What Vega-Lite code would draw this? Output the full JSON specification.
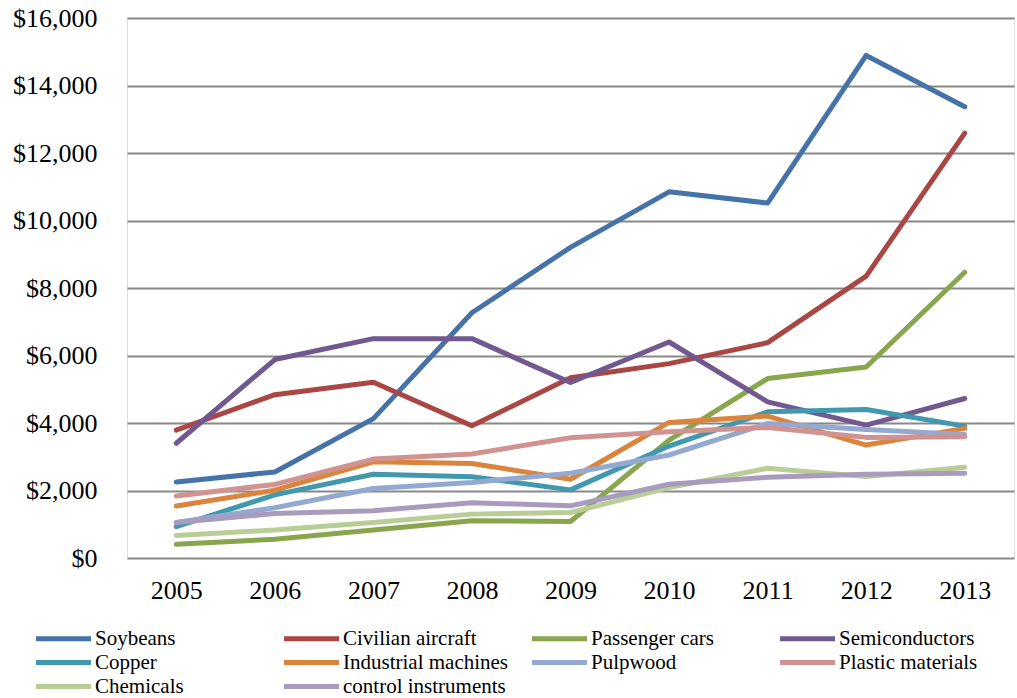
{
  "$schema": "https://vega.github.io/schema/vega-lite/v6.json",
  "autosize": "none",
  "width": 887,
  "height": 540,
  "padding": {"left": 127, "top": 18, "right": 3, "bottom": 140},
  "background": "white",
  "title": {
    "text": "(in millions)",
    "font": "Liberation Serif",
    "fontSize": 30,
    "fontWeight": "bold",
    "color": "black",
    "anchor": "middle",
    "baseline": "alphabetic",
    "dx": -37,
    "offset": 18
  },
  "data": {
    "values": [
      {"year": "2005", "product": "Soybeans", "value": 2250},
      {"year": "2006", "product": "Soybeans", "value": 2550},
      {"year": "2007", "product": "Soybeans", "value": 4130},
      {"year": "2008", "product": "Soybeans", "value": 7267},
      {"year": "2009", "product": "Soybeans", "value": 9205},
      {"year": "2010", "product": "Soybeans", "value": 10850},
      {"year": "2011", "product": "Soybeans", "value": 10517},
      {"year": "2012", "product": "Soybeans", "value": 14890},
      {"year": "2013", "product": "Soybeans", "value": 13370},
      {"year": "2005", "product": "Civilian aircraft", "value": 3790},
      {"year": "2006", "product": "Civilian aircraft", "value": 4840},
      {"year": "2007", "product": "Civilian aircraft", "value": 5210},
      {"year": "2008", "product": "Civilian aircraft", "value": 3917},
      {"year": "2009", "product": "Civilian aircraft", "value": 5340},
      {"year": "2010", "product": "Civilian aircraft", "value": 5760},
      {"year": "2011", "product": "Civilian aircraft", "value": 6380},
      {"year": "2012", "product": "Civilian aircraft", "value": 8350},
      {"year": "2013", "product": "Civilian aircraft", "value": 12590},
      {"year": "2005", "product": "Passenger cars", "value": 405},
      {"year": "2006", "product": "Passenger cars", "value": 555},
      {"year": "2007", "product": "Passenger cars", "value": 830},
      {"year": "2008", "product": "Passenger cars", "value": 1105},
      {"year": "2009", "product": "Passenger cars", "value": 1081},
      {"year": "2010", "product": "Passenger cars", "value": 3490},
      {"year": "2011", "product": "Passenger cars", "value": 5317},
      {"year": "2012", "product": "Passenger cars", "value": 5660},
      {"year": "2013", "product": "Passenger cars", "value": 8467},
      {"year": "2005", "product": "Semiconductors", "value": 3400},
      {"year": "2006", "product": "Semiconductors", "value": 5880},
      {"year": "2007", "product": "Semiconductors", "value": 6500},
      {"year": "2008", "product": "Semiconductors", "value": 6500},
      {"year": "2009", "product": "Semiconductors", "value": 5200},
      {"year": "2010", "product": "Semiconductors", "value": 6400},
      {"year": "2011", "product": "Semiconductors", "value": 4627},
      {"year": "2012", "product": "Semiconductors", "value": 3938},
      {"year": "2013", "product": "Semiconductors", "value": 4727},
      {"year": "2005", "product": "Copper", "value": 930},
      {"year": "2006", "product": "Copper", "value": 1870},
      {"year": "2007", "product": "Copper", "value": 2480},
      {"year": "2008", "product": "Copper", "value": 2410},
      {"year": "2009", "product": "Copper", "value": 2018},
      {"year": "2010", "product": "Copper", "value": 3317},
      {"year": "2011", "product": "Copper", "value": 4330},
      {"year": "2012", "product": "Copper", "value": 4400},
      {"year": "2013", "product": "Copper", "value": 3908},
      {"year": "2005", "product": "Industrial machines", "value": 1540},
      {"year": "2006", "product": "Industrial machines", "value": 2010},
      {"year": "2007", "product": "Industrial machines", "value": 2850},
      {"year": "2008", "product": "Industrial machines", "value": 2800},
      {"year": "2009", "product": "Industrial machines", "value": 2334},
      {"year": "2010", "product": "Industrial machines", "value": 4018},
      {"year": "2011", "product": "Industrial machines", "value": 4204},
      {"year": "2012", "product": "Industrial machines", "value": 3347},
      {"year": "2013", "product": "Industrial machines", "value": 3840},
      {"year": "2005", "product": "Pulpwood", "value": 1050},
      {"year": "2006", "product": "Pulpwood", "value": 1490},
      {"year": "2007", "product": "Pulpwood", "value": 2060},
      {"year": "2008", "product": "Pulpwood", "value": 2240},
      {"year": "2009", "product": "Pulpwood", "value": 2511},
      {"year": "2010", "product": "Pulpwood", "value": 3052},
      {"year": "2011", "product": "Pulpwood", "value": 3988},
      {"year": "2012", "product": "Pulpwood", "value": 3810},
      {"year": "2013", "product": "Pulpwood", "value": 3663},
      {"year": "2005", "product": "Plastic materials", "value": 1840},
      {"year": "2006", "product": "Plastic materials", "value": 2180},
      {"year": "2007", "product": "Plastic materials", "value": 2930},
      {"year": "2008", "product": "Plastic materials", "value": 3080},
      {"year": "2009", "product": "Plastic materials", "value": 3563},
      {"year": "2010", "product": "Plastic materials", "value": 3740},
      {"year": "2011", "product": "Plastic materials", "value": 3870},
      {"year": "2012", "product": "Plastic materials", "value": 3574},
      {"year": "2013", "product": "Plastic materials", "value": 3593},
      {"year": "2005", "product": "Chemicals", "value": 670},
      {"year": "2006", "product": "Chemicals", "value": 830},
      {"year": "2007", "product": "Chemicals", "value": 1050},
      {"year": "2008", "product": "Chemicals", "value": 1300},
      {"year": "2009", "product": "Chemicals", "value": 1347},
      {"year": "2010", "product": "Chemicals", "value": 2087},
      {"year": "2011", "product": "Chemicals", "value": 2659},
      {"year": "2012", "product": "Chemicals", "value": 2411},
      {"year": "2013", "product": "Chemicals", "value": 2688},
      {"year": "2005", "product": "control instruments", "value": 1050},
      {"year": "2006", "product": "control instruments", "value": 1320},
      {"year": "2007", "product": "control instruments", "value": 1400},
      {"year": "2008", "product": "control instruments", "value": 1640},
      {"year": "2009", "product": "control instruments", "value": 1545},
      {"year": "2010", "product": "control instruments", "value": 2186},
      {"year": "2011", "product": "control instruments", "value": 2393},
      {"year": "2012", "product": "control instruments", "value": 2481},
      {"year": "2013", "product": "control instruments", "value": 2511}
    ]
  },
  "mark": {"type": "line", "strokeWidth": 5, "strokeCap": "round", "strokeJoin": "round"},
  "encoding": {
    "x": {
      "field": "year",
      "type": "ordinal",
      "title": null,
      "scale": {"padding": 0.5},
      "axis": {
        "domain": false,
        "ticks": false,
        "tickSize": 0,
        "grid": false,
        "labelAngle": 0,
        "labelPadding": 19,
        "labelFont": "Liberation Serif",
        "labelFontSize": 26,
        "labelColor": "black"
      }
    },
    "y": {
      "field": "value",
      "type": "quantitative",
      "title": null,
      "scale": {"domain": [0, 16000], "nice": false},
      "axis": {
        "values": [0, 2000, 4000, 6000, 8000, 10000, 12000, 14000, 16000],
        "format": "$,.0f",
        "domain": false,
        "ticks": false,
        "tickSize": 0,
        "labelPadding": 30,
        "labelFont": "Liberation Serif",
        "labelFontSize": 26,
        "labelColor": "black",
        "gridColor": "#888888",
        "gridWidth": 2,
        "gridOpacity": 1
      }
    },
    "color": {
      "field": "product",
      "type": "nominal",
      "title": null,
      "scale": {
        "domain": ["Soybeans", "Civilian aircraft", "Passenger cars", "Semiconductors", "Copper", "Industrial machines", "Pulpwood", "Plastic materials", "Chemicals", "control instruments"],
        "range": ["#4572A7", "#AA4643", "#89A54E", "#71588F", "#4198AF", "#DB843D", "#93A9CF", "#D19392", "#B9CD96", "#A99BBD"]
      },
      "legend": {
        "orient": "none",
        "legendX": -74,
        "legendY": 610,
        "direction": "horizontal",
        "columns": 4,
        "gridAlign": "all",
        "columnPadding": 13,
        "rowPadding": 2,
        "padding": 0,
        "symbolType": "M-5,0H5",
        "symbolSize": 121,
        "symbolStrokeWidth": 5,
        "labelOffset": 21,
        "labelFont": "Liberation Serif",
        "labelFontSize": 21,
        "labelColor": "black",
        "labelLimit": 300
      }
    }
  }
}
